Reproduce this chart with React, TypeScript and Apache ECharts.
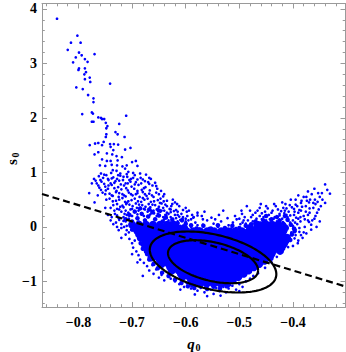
import React, { useEffect, useRef } from "react";
import * as echarts from "echarts";

const X_MIN = -0.868;
const X_MAX = -0.302;
const Y_MIN = -1.47;
const Y_MAX = 4.1;

const xMajorTicks = [-0.8, -0.7, -0.6, -0.5, -0.4];
const xMinorTicks = [-0.86, -0.84, -0.82, -0.78, -0.76, -0.74, -0.72, -0.68, -0.66, -0.64, -0.62, -0.58, -0.56, -0.54, -0.52, -0.48, -0.46, -0.44, -0.42, -0.38, -0.36, -0.34, -0.32];
const yMajorTicks = [-1, 0, 1, 2, 3, 4];
const yMinorTicks = [-1.4, -1.2, -0.8, -0.6, -0.4, -0.2, 0.2, 0.4, 0.6, 0.8, 1.2, 1.4, 1.6, 1.8, 2.2, 2.4, 2.6, 2.8, 3.2, 3.4, 3.6, 3.8];

// sparse upper tail
const tailPoints = [
  [-0.840, 3.82], [-0.802, 3.51], [-0.814, 3.38], [-0.796, 3.38], [-0.820, 3.25], [-0.799, 3.20], [-0.794, 3.15], [-0.805, 3.11],
  [-0.770, 3.17], [-0.788, 3.08], [-0.783, 3.03], [-0.810, 3.02], [-0.799, 2.91], [-0.800, 2.88], [-0.788, 2.91], [-0.786, 2.84],
  [-0.789, 2.80], [-0.779, 2.74], [-0.788, 2.71], [-0.778, 2.66], [-0.741, 2.63], [-0.804, 2.56], [-0.792, 2.53], [-0.782, 2.42],
  [-0.772, 2.36], [-0.772, 2.29], [-0.793, 2.07], [-0.775, 2.10], [-0.773, 2.08], [-0.711, 2.04], [-0.763, 2.01], [-0.758, 2.00],
  [-0.756, 1.98], [-0.752, 1.98], [-0.775, 1.93], [-0.772, 1.93], [-0.749, 1.91], [-0.724, 1.89], [-0.746, 1.85], [-0.748, 1.81],
  [-0.731, 1.74], [-0.727, 1.70], [-0.748, 1.70], [-0.749, 1.65], [-0.714, 1.65], [-0.753, 1.56], [-0.769, 1.53], [-0.779, 1.50],
  [-0.763, 1.54], [-0.756, 1.50], [-0.741, 1.52], [-0.734, 1.52], [-0.726, 1.51], [-0.740, 1.47], [-0.703, 1.45], [-0.713, 1.42],
  [-0.735, 1.41], [-0.763, 1.37], [-0.770, 1.33], [-0.747, 1.35], [-0.737, 1.33], [-0.729, 1.30], [-0.719, 1.28], [-0.756, 1.24],
  [-0.747, 1.21], [-0.740, 1.21], [-0.727, 1.22], [-0.700, 1.19], [-0.693, 1.21], [-0.760, 1.13], [-0.750, 1.12], [-0.738, 1.14],
  [-0.728, 1.13], [-0.718, 1.11], [-0.710, 1.13], [-0.690, 1.12], [-0.758, 0.98], [-0.739, 0.99], [-0.736, 1.04], [-0.729, 1.03],
  [-0.722, 0.98], [-0.713, 1.07], [-0.707, 1.01], [-0.698, 0.99], [-0.674, 0.96], [-0.685, 0.98],
];

// left branch, s from about 0.1 to 0.95
const bandPoints = [
  [-0.762, 0.93], [-0.748, 0.95], [-0.735, 0.91], [-0.722, 0.94], [-0.709, 0.92], [-0.695, 0.95], [-0.684, 0.90], [-0.754, 0.90], [-0.728, 0.88],
  [-0.752, 0.96], [-0.745, 0.88], [-0.716, 0.92], [-0.702, 0.88], [-0.680, 0.87], [-0.668, 0.90], [-0.726, 0.95], [-0.710, 0.97],
  [-0.768, 0.85], [-0.757, 0.83], [-0.744, 0.86], [-0.731, 0.84], [-0.717, 0.86], [-0.703, 0.83], [-0.690, 0.87], [-0.676, 0.84], [-0.740, 0.80], [-0.712, 0.80],
  [-0.763, 0.76], [-0.750, 0.74], [-0.738, 0.77], [-0.726, 0.73], [-0.715, 0.76], [-0.701, 0.74], [-0.688, 0.77], [-0.675, 0.73], [-0.662, 0.76],
  [-0.745, 0.70], [-0.720, 0.69], [-0.696, 0.70], [-0.682, 0.68], [-0.758, 0.68],
  [-0.755, 0.63], [-0.742, 0.61], [-0.730, 0.64], [-0.718, 0.60], [-0.706, 0.63], [-0.693, 0.60], [-0.680, 0.64], [-0.668, 0.61], [-0.655, 0.63],
  [-0.736, 0.57], [-0.712, 0.56], [-0.699, 0.58], [-0.686, 0.55], [-0.673, 0.57], [-0.660, 0.55], [-0.764, 0.58],
  [-0.748, 0.50], [-0.736, 0.47], [-0.724, 0.50], [-0.713, 0.46], [-0.701, 0.49], [-0.689, 0.47], [-0.677, 0.50], [-0.665, 0.46], [-0.652, 0.49], [-0.641, 0.47],
  [-0.728, 0.42], [-0.705, 0.41], [-0.693, 0.43], [-0.681, 0.40], [-0.669, 0.42], [-0.657, 0.40], [-0.645, 0.43], [-0.718, 0.39],
  [-0.740, 0.35], [-0.728, 0.33], [-0.716, 0.36], [-0.703, 0.32], [-0.691, 0.35], [-0.678, 0.33], [-0.666, 0.36], [-0.654, 0.32], [-0.642, 0.35], [-0.630, 0.33],
  [-0.720, 0.28], [-0.707, 0.26], [-0.695, 0.29], [-0.683, 0.25], [-0.671, 0.28], [-0.659, 0.25], [-0.647, 0.28], [-0.635, 0.26], [-0.622, 0.29], [-0.732, 0.24],
  [-0.728, 0.21], [-0.716, 0.18], [-0.710, 0.22], [-0.636, 0.21], [-0.628, 0.18], [-0.620, 0.22], [-0.612, 0.19], [-0.724, 0.13], [-0.712, 0.10],
  [-0.632, 0.12], [-0.622, 0.09], [-0.610, 0.13], [-0.600, 0.10], [-0.590, 0.14],
  [-0.780, 0.62], [-0.775, 0.80], [-0.770, 0.45], [-0.750, 0.35], [-0.620, 0.45], [-0.640, 0.60], [-0.655, 0.75], [-0.665, 0.88],
  [-0.745, 0.22], [-0.735, 0.05], [-0.740, 0.12], [-0.720, -0.02],
  [-0.645, 0.30], [-0.638, 0.22], [-0.628, 0.27], [-0.618, 0.31], [-0.608, 0.24], [-0.598, 0.28], [-0.588, 0.22], [-0.578, 0.26],
  [-0.568, 0.14], [-0.605, 0.18], [-0.595, 0.12], [-0.618, 0.16], [-0.628, 0.08], [-0.640, 0.14], [-0.652, 0.24], [-0.660, 0.30],
  [-0.612, 0.38], [-0.625, 0.42], [-0.635, 0.38], [-0.600, 0.35],
  [-0.771, 0.88], [-0.759, 0.86], [-0.738, 0.89], [-0.724, 0.85], [-0.705, 0.86], [-0.693, 0.82], [-0.670, 0.82], [-0.698, 0.90],
  [-0.766, 0.80], [-0.752, 0.79], [-0.733, 0.81], [-0.721, 0.78], [-0.708, 0.80], [-0.695, 0.78], [-0.683, 0.80], [-0.668, 0.79], [-0.657, 0.81], [-0.744, 0.76],
  [-0.761, 0.72], [-0.749, 0.67], [-0.733, 0.71], [-0.729, 0.66], [-0.711, 0.71], [-0.708, 0.67], [-0.690, 0.66], [-0.678, 0.71], [-0.667, 0.67], [-0.653, 0.70], [-0.646, 0.66],
  [-0.750, 0.60], [-0.738, 0.58], [-0.724, 0.62], [-0.715, 0.58], [-0.702, 0.60], [-0.690, 0.62], [-0.676, 0.60], [-0.663, 0.58], [-0.650, 0.60], [-0.642, 0.56], [-0.725, 0.55], [-0.680, 0.53],
  [-0.742, 0.52], [-0.730, 0.48], [-0.718, 0.53], [-0.707, 0.47], [-0.695, 0.52], [-0.683, 0.46], [-0.671, 0.52], [-0.659, 0.47], [-0.647, 0.52], [-0.635, 0.48], [-0.624, 0.50], [-0.710, 0.44],
  [-0.735, 0.40], [-0.722, 0.37], [-0.711, 0.42], [-0.699, 0.38], [-0.687, 0.41], [-0.675, 0.37], [-0.662, 0.41], [-0.650, 0.37], [-0.638, 0.41], [-0.627, 0.38], [-0.616, 0.42], [-0.648, 0.44],
  [-0.733, 0.30], [-0.724, 0.32], [-0.712, 0.30], [-0.700, 0.33], [-0.688, 0.30], [-0.676, 0.32], [-0.664, 0.30], [-0.652, 0.33], [-0.640, 0.30], [-0.628, 0.32], [-0.615, 0.28], [-0.605, 0.31], [-0.594, 0.30],
  [-0.738, 0.18], [-0.725, 0.16], [-0.714, 0.24], [-0.706, 0.15], [-0.700, 0.20], [-0.690, 0.23], [-0.678, 0.20], [-0.666, 0.23], [-0.654, 0.20], [-0.642, 0.18],
  [-0.632, 0.24], [-0.624, 0.15], [-0.615, 0.22], [-0.606, 0.15], [-0.597, 0.20], [-0.586, 0.17], [-0.578, 0.21],
  [-0.730, 0.08], [-0.720, 0.05], [-0.716, 0.11], [-0.710, 0.02], [-0.725, -0.06], [-0.728, 0.00],
];

// left fringe of the dense core
const leftFringe = [
  [-0.715, 0.00], [-0.710, -0.06], [-0.712, -0.14], [-0.705, -0.22], [-0.700, -0.30], [-0.698, -0.38], [-0.692, -0.45], [-0.688, -0.52],
  [-0.685, -0.60], [-0.678, -0.66], [-0.672, -0.72], [-0.668, -0.80], [-0.660, -0.86], [-0.655, -0.78], [-0.662, -0.70], [-0.700, -0.50],
  [-0.695, -0.25], [-0.706, -0.10], [-0.720, -0.20], [-0.690, -0.65], [-0.680, -0.90], [-0.650, -0.93], [-0.645, -0.88], [-0.640, -0.98],
];

// lower fringe of the dense core
const bottomFringe = [
  [-0.628, -0.95], [-0.620, -1.00], [-0.612, -1.05], [-0.603, -1.10], [-0.598, -1.03], [-0.590, -1.13], [-0.585, -1.08], [-0.578, -1.17],
  [-0.572, -1.12], [-0.565, -1.20], [-0.560, -1.10], [-0.553, -1.15], [-0.548, -1.23], [-0.543, -1.12], [-0.537, -1.18], [-0.530, -1.10],
  [-0.525, -1.20], [-0.520, -1.13], [-0.513, -1.08], [-0.506, -1.15], [-0.500, -1.05], [-0.494, -1.10], [-0.488, -1.00], [-0.480, -0.95],
  [-0.474, -0.90], [-0.500, -1.18], [-0.560, -1.27], [-0.583, -1.24], [-0.535, -1.26], [-0.610, -1.15],
  [-0.430, -0.55], [-0.440, -0.65], [-0.452, -0.75], [-0.465, -0.85],
];

// above the middle of the core
const topMiddle = [
  [-0.600, 0.05], [-0.590, 0.00], [-0.582, 0.08], [-0.575, -0.03], [-0.568, 0.04], [-0.560, 0.12], [-0.556, -0.02], [-0.548, 0.06],
  [-0.540, 0.00], [-0.534, 0.10], [-0.528, -0.04], [-0.520, 0.03], [-0.512, 0.08], [-0.506, -0.02], [-0.498, 0.05], [-0.492, 0.12],
  [-0.585, 0.18], [-0.570, 0.20], [-0.552, 0.17], [-0.538, 0.22], [-0.522, 0.16], [-0.508, 0.20], [-0.495, 0.24], [-0.600, 0.15],
  [-0.565, 0.28], [-0.530, 0.30], [-0.595, -0.04], [-0.578, 0.03], [-0.546, -0.05], [-0.516, -0.05], [-0.562, -0.06], [-0.610, 0.02],
  [-0.615, 0.10], [-0.545, 0.14], [-0.505, 0.14], [-0.488, 0.06],
];

// right arm
const armPoints = [
  [-0.340, 0.78], [-0.331, 0.61], [-0.353, 0.62], [-0.375, 0.55], [-0.359, 0.50], [-0.374, 0.48], [-0.395, 0.41], [-0.406, 0.40],
  [-0.412, 0.34], [-0.383, 0.37], [-0.369, 0.34], [-0.362, 0.35], [-0.352, 0.32], [-0.388, 0.31], [-0.376, 0.28], [-0.397, 0.28],
  [-0.425, 0.21], [-0.416, 0.25], [-0.405, 0.21], [-0.369, 0.26], [-0.434, 0.18], [-0.443, 0.14], [-0.394, 0.17], [-0.386, 0.18],
  [-0.378, 0.14], [-0.370, 0.09], [-0.364, 0.12], [-0.400, 0.12], [-0.409, 0.11], [-0.419, 0.09], [-0.428, 0.06], [-0.456, 0.06],
  [-0.471, 0.03], [-0.465, 0.01], [-0.487, -0.06], [-0.493, -0.12], [-0.505, -0.18], [-0.515, -0.03], [-0.388, -0.09], [-0.378, 0.00],
  [-0.385, -0.15], [-0.397, -0.21], [-0.391, -0.30], [-0.409, -0.37], [-0.416, -0.28],
  [-0.475, 0.10], [-0.468, 0.15], [-0.460, 0.08], [-0.455, 0.18], [-0.450, 0.12], [-0.445, 0.22], [-0.440, 0.06], [-0.436, 0.15],
  [-0.430, 0.10], [-0.425, 0.24], [-0.420, 0.15], [-0.415, 0.05], [-0.410, 0.18], [-0.405, 0.08], [-0.400, 0.02], [-0.398, 0.22],
  [-0.392, 0.05], [-0.386, 0.10], [-0.395, -0.05], [-0.403, -0.10], [-0.410, -0.02], [-0.418, 0.00], [-0.462, 0.20], [-0.478, 0.18],
  [-0.484, 0.12], [-0.470, 0.26], [-0.452, 0.28], [-0.438, 0.30], [-0.428, 0.32], [-0.418, 0.35], [-0.408, 0.28], [-0.398, 0.33],
  [-0.390, 0.26], [-0.380, 0.20], [-0.372, 0.22], [-0.366, 0.04], [-0.360, 0.15], [-0.355, 0.26], [-0.348, 0.38], [-0.358, 0.42],
  [-0.370, 0.45], [-0.385, 0.44], [-0.395, 0.50], [-0.380, 0.55], [-0.365, 0.60], [-0.345, 0.50], [-0.340, 0.44], [-0.350, 0.55],
  [-0.440, 0.02], [-0.452, 0.04], [-0.466, 0.02], [-0.490, 0.18], [-0.380, -0.10], [-0.390, -0.25], [-0.400, -0.35], [-0.395, -0.15],
  [-0.388, -0.02],
  [-0.475, 0.22], [-0.466, 0.30], [-0.458, 0.25], [-0.447, 0.34], [-0.440, 0.26], [-0.432, 0.38], [-0.422, 0.29], [-0.414, 0.42],
  [-0.402, 0.36], [-0.392, 0.38], [-0.384, 0.48], [-0.376, 0.38], [-0.368, 0.50], [-0.362, 0.44], [-0.354, 0.46], [-0.346, 0.62],
  [-0.336, 0.68], [-0.360, 0.70], [-0.372, 0.65], [-0.390, 0.58], [-0.404, 0.50], [-0.420, 0.45], [-0.435, 0.42], [-0.450, 0.38],
  [-0.462, 0.35], [-0.480, 0.30], [-0.496, 0.30], [-0.486, 0.38], [-0.460, 0.42], [-0.415, 0.30], [-0.385, 0.30], [-0.372, 0.12],
  [-0.358, 0.20], [-0.350, 0.10], [-0.356, 0.00], [-0.366, -0.05], [-0.375, -0.12], [-0.382, -0.20], [-0.390, 0.15], [-0.396, 0.08],
  [-0.412, 0.22], [-0.423, 0.02], [-0.436, 0.08], [-0.447, 0.00], [-0.458, 0.14], [-0.472, 0.06], [-0.482, 0.00], [-0.494, 0.08],
  [-0.500, 0.15],
];

// dense but speckled transition zones (clumps of points)
const clumpPoints = [
  [-0.705, 0.22], [-0.695, 0.28], [-0.690, 0.16], [-0.682, 0.24], [-0.676, 0.12], [-0.670, 0.19], [-0.662, 0.27], [-0.657, 0.14],
  [-0.650, 0.21], [-0.643, 0.10], [-0.637, 0.17], [-0.630, 0.06], [-0.625, 0.13], [-0.615, 0.07], [-0.607, 0.12], [-0.700, 0.10],
  [-0.688, 0.08], [-0.712, 0.14], [-0.668, 0.32], [-0.685, 0.34], [-0.650, 0.30], [-0.600, 0.06],
  [-0.478, 0.05], [-0.470, 0.10], [-0.462, 0.03], [-0.455, 0.12], [-0.448, 0.07], [-0.440, 0.14], [-0.432, 0.05], [-0.425, 0.12],
  [-0.418, 0.06], [-0.410, 0.13], [-0.404, 0.04], [-0.398, -0.03], [-0.402, -0.14], [-0.397, -0.08], [-0.405, -0.24], [-0.430, 0.18],
  [-0.450, 0.20], [-0.415, 0.20],
  [-0.604, -0.02], [-0.590, 0.03], [-0.580, -0.03], [-0.567, 0.02], [-0.553, -0.03], [-0.540, 0.03], [-0.527, -0.02], [-0.513, 0.02],
  [-0.500, -0.02], [-0.488, 0.02],
  [-0.672, -0.50], [-0.668, -0.60], [-0.660, -0.68], [-0.652, -0.76], [-0.644, -0.84], [-0.632, -0.90], [-0.620, -0.97], [-0.684, -0.30],
  [-0.680, -0.40], [-0.690, -0.15], [-0.700, -0.05], [-0.608, -1.03],
  [-0.596, -1.09], [-0.584, -1.12], [-0.572, -1.08], [-0.560, -1.14], [-0.548, -1.10], [-0.536, -1.13], [-0.524, -1.09],
];

// solid core: rows of points (s level and q positions)
const coreRowS = [0.04, -0.02, -0.08, -0.14, -0.2, -0.26, -0.32, -0.38, -0.44, -0.5, -0.56, -0.62, -0.68, -0.74, -0.8, -0.86, -0.92, -0.98, -1.04];
const coreRowQ = [
  [-0.700, -0.687, -0.674, -0.661, -0.648, -0.635, -0.622, -0.466, -0.453, -0.440, -0.427],
  [-0.694, -0.681, -0.668, -0.655, -0.642, -0.629, -0.616, -0.603, -0.480, -0.467, -0.454, -0.441, -0.428, -0.415],
  [-0.690, -0.677, -0.664, -0.651, -0.638, -0.625, -0.612, -0.599, -0.586, -0.573, -0.560, -0.547, -0.534, -0.521, -0.508, -0.495, -0.482, -0.469, -0.456, -0.443, -0.430, -0.418],
  [-0.680, -0.667, -0.654, -0.641, -0.628, -0.615, -0.602, -0.589, -0.576, -0.563, -0.550, -0.537, -0.524, -0.511, -0.498, -0.485, -0.472, -0.459, -0.446, -0.433, -0.420],
  [-0.684, -0.671, -0.658, -0.645, -0.632, -0.619, -0.606, -0.593, -0.580, -0.567, -0.554, -0.541, -0.528, -0.515, -0.502, -0.489, -0.476, -0.463, -0.450, -0.437, -0.424, -0.411],
  [-0.674, -0.661, -0.648, -0.635, -0.622, -0.609, -0.596, -0.583, -0.570, -0.557, -0.544, -0.531, -0.518, -0.505, -0.492, -0.479, -0.466, -0.453, -0.440, -0.427, -0.414],
  [-0.677, -0.664, -0.651, -0.638, -0.625, -0.612, -0.599, -0.586, -0.573, -0.560, -0.547, -0.534, -0.521, -0.508, -0.495, -0.482, -0.469, -0.456, -0.443, -0.430, -0.417],
  [-0.668, -0.655, -0.642, -0.629, -0.616, -0.603, -0.590, -0.577, -0.564, -0.551, -0.538, -0.525, -0.512, -0.499, -0.486, -0.473, -0.460, -0.447, -0.434, -0.421],
  [-0.671, -0.658, -0.645, -0.632, -0.619, -0.606, -0.593, -0.580, -0.567, -0.554, -0.541, -0.528, -0.515, -0.502, -0.489, -0.476, -0.463, -0.450, -0.437, -0.424],
  [-0.661, -0.648, -0.635, -0.622, -0.609, -0.596, -0.583, -0.570, -0.557, -0.544, -0.531, -0.518, -0.505, -0.492, -0.479, -0.466, -0.453, -0.440],
  [-0.664, -0.651, -0.638, -0.625, -0.612, -0.599, -0.586, -0.573, -0.560, -0.547, -0.534, -0.521, -0.508, -0.495, -0.482, -0.469, -0.456, -0.443],
  [-0.648, -0.635, -0.622, -0.609, -0.596, -0.583, -0.570, -0.557, -0.544, -0.531, -0.518, -0.505, -0.492, -0.479, -0.466, -0.453],
  [-0.645, -0.632, -0.619, -0.606, -0.593, -0.580, -0.567, -0.554, -0.541, -0.528, -0.515, -0.502, -0.489, -0.476, -0.463],
  [-0.629, -0.616, -0.603, -0.590, -0.577, -0.564, -0.551, -0.538, -0.525, -0.512, -0.499, -0.486, -0.473],
  [-0.626, -0.613, -0.600, -0.587, -0.574, -0.561, -0.548, -0.535, -0.522, -0.509, -0.496, -0.483],
  [-0.609, -0.596, -0.583, -0.570, -0.557, -0.544, -0.531, -0.518, -0.505, -0.492],
  [-0.606, -0.593, -0.580, -0.567, -0.554, -0.541, -0.528, -0.515, -0.502],
  [-0.590, -0.577, -0.564, -0.551, -0.538, -0.525, -0.512],
  [-0.587, -0.574, -0.561, -0.548, -0.535, -0.522],
];

// dashed fit line endpoints
const fitLineQ = [-0.868, -0.302];
const fitLineS = [0.604, -1.094];

// confidence ellipses: centre, spread in q, spread in s, correlation
const ellipseCentreQ = [-0.549, -0.549];
const ellipseCentreS = [-0.639, -0.644];
const ellipseSpreadQ = [0.084, 0.118];
const ellipseSpreadS = [0.395, 0.56];
const ellipseCorr = [-0.4, -0.4];

const FONT = "'Liberation Serif', 'Times New Roman', serif";
const FRAME = "#9a9a9a";
const BLUE = "#0000ff";

function fmt(v: number): string {
  return v < 0 ? "\u2212" + String(Math.abs(v)) : String(v);
}

function ellipsePoints(i: number): number[][] {
  const pts: number[][] = [];
  const r = ellipseCorr[i];
  const n = 160;
  for (let k = 0; k <= n; k++) {
    const t = (2 * Math.PI * k) / n;
    const q = ellipseCentreQ[i] + ellipseSpreadQ[i] * Math.cos(t);
    const s = ellipseCentreS[i] + ellipseSpreadS[i] * (r * Math.cos(t) + Math.sqrt(1 - r * r) * Math.sin(t));
    pts.push([q, s]);
  }
  return pts;
}

function makeXAxis(position: "bottom" | "top", ticks: number[], len: number, showLine: boolean, showLabel: boolean) {
  return {
    type: "value",
    position,
    min: X_MIN,
    max: X_MAX,
    axisLine: { show: showLine, onZero: false, lineStyle: { color: FRAME, width: 1 } },
    axisTick: { show: true, inside: true, length: len, customValues: ticks, lineStyle: { color: FRAME, width: 1 } },
    axisLabel: {
      show: showLabel,
      customValues: ticks,
      formatter: fmt,
      margin: 8,
      fontFamily: FONT,
      fontWeight: "bold",
      fontSize: 14,
      color: "#000",
    },
    splitLine: { show: false },
    minorTick: { show: false },
  };
}

function makeYAxis(position: "left" | "right", ticks: number[], len: number, showLine: boolean, showLabel: boolean) {
  return {
    type: "value",
    position,
    min: Y_MIN,
    max: Y_MAX,
    axisLine: { show: showLine, onZero: false, lineStyle: { color: FRAME, width: 1 } },
    axisTick: { show: true, inside: true, length: len, customValues: ticks, lineStyle: { color: FRAME, width: 1 } },
    axisLabel: {
      show: showLabel,
      customValues: ticks,
      formatter: fmt,
      margin: 5,
      fontFamily: FONT,
      fontWeight: "bold",
      fontSize: 14,
      color: "#000",
    },
    splitLine: { show: false },
    minorTick: { show: false },
  };
}

export default function App() {
  const ref = useRef<HTMLDivElement>(null);

  useEffect(() => {
    if (!ref.current) return;
    const chart = echarts.init(ref.current, null, { renderer: "svg" });

    const coreData: number[][] = [];
    coreRowS.forEach((s, i) => {
      coreRowQ[i].forEach((q) => coreData.push([q, s]));
    });
    const pointData = [...tailPoints, ...bandPoints, ...leftFringe, ...bottomFringe, ...topMiddle, ...armPoints];

    const option = {
      animation: false,
      backgroundColor: "#fff",
      grid: { left: 42, right: 0.5, top: 3.5, bottom: 45, containLabel: false },
      xAxis: [
        makeXAxis("bottom", xMajorTicks, 5, true, true),
        makeXAxis("bottom", xMinorTicks, 2.8, false, false),
        makeXAxis("top", xMajorTicks, 5, true, false),
        makeXAxis("top", xMinorTicks, 2.8, false, false),
      ],
      yAxis: [
        makeYAxis("left", yMajorTicks, 5, true, true),
        makeYAxis("left", yMinorTicks, 2.8, false, false),
        makeYAxis("right", yMajorTicks, 5, true, false),
        makeYAxis("right", yMinorTicks, 2.8, false, false),
      ],
      series: [
        {
          type: "scatter",
          data: coreData,
          symbol: "circle",
          symbolSize: 8,
          itemStyle: { color: BLUE, opacity: 1 },
          silent: true,
          z: 1,
        },
        {
          type: "scatter",
          data: clumpPoints,
          symbol: "circle",
          symbolSize: 4.5,
          itemStyle: { color: BLUE, opacity: 1 },
          silent: true,
          z: 1,
        },
        {
          type: "scatter",
          data: pointData,
          symbol: "circle",
          symbolSize: 2.7,
          itemStyle: { color: BLUE, opacity: 1 },
          silent: true,
          z: 2,
        },
        {
          type: "line",
          data: fitLineQ.map((q, i) => [q, fitLineS[i]]),
          symbol: "none",
          lineStyle: { color: "#000", width: 2.2, type: [7, 4] },
          silent: true,
          z: 3,
        },
        {
          type: "line",
          data: ellipsePoints(0),
          symbol: "none",
          smooth: false,
          lineStyle: { color: "#000", width: 2.2 },
          silent: true,
          z: 4,
        },
        {
          type: "line",
          data: ellipsePoints(1),
          symbol: "none",
          smooth: false,
          lineStyle: { color: "#000", width: 2.2 },
          silent: true,
          z: 4,
        },
      ],
      graphic: [
        {
          type: "text",
          x: 191,
          y: 344,
          style: {
            text: "q",
            font: "italic bold 15px " + FONT,
            fill: "#000",
            align: "center",
            verticalAlign: "middle",
          },
        },
        {
          type: "text",
          x: 198,
          y: 347,
          style: {
            text: "0",
            font: "bold 10px " + FONT,
            fill: "#000",
            align: "center",
            verticalAlign: "middle",
          },
        },
        {
          type: "group",
          x: 12,
          y: 160,
          rotation: Math.PI / 2,
          children: [
            {
              type: "text",
              x: -2,
              y: 0,
              style: {
                text: "s",
                font: "bold 15px " + FONT,
                fill: "#000",
                align: "center",
                verticalAlign: "middle",
              },
            },
            {
              type: "text",
              x: 5,
              y: 3,
              style: {
                text: "0",
                font: "bold 10px " + FONT,
                fill: "#000",
                align: "center",
                verticalAlign: "middle",
              },
            },
          ],
        },
      ],
    };

    chart.setOption(option as any);
    return () => chart.dispose();
  }, []);

  return (
    <div
      ref={ref}
      style={{ position: "fixed", left: 0, top: 0, width: 346, height: 352, background: "#fff" }}
    />
  );
}
